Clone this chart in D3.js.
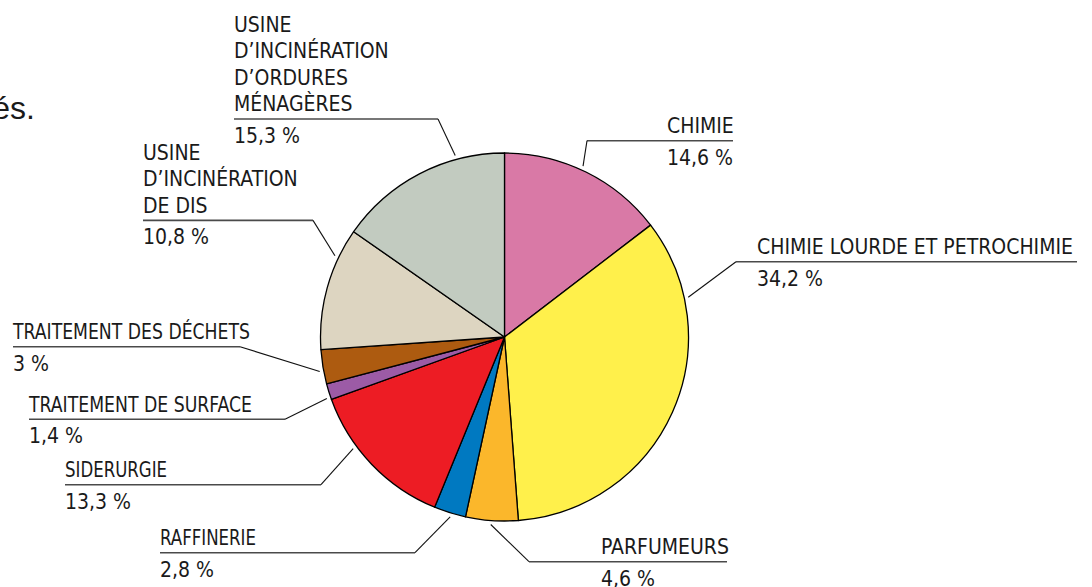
<!DOCTYPE html>
<html>
<head>
<meta charset="utf-8">
<script src="https://cdn.jsdelivr.net/npm/d3@7"></script>
<style>
  body { margin: 0; background: #fff; }
  svg text { font-family: "Liberation Sans Narrow", "Arial Narrow", "DejaVu Sans Condensed", sans-serif; fill: #1a1a1a; }
</style>
</head>
<body>
<div id="d3-container"></div>
<script>
/**
 * CONSTANTS AND GLOBALS
 * */
const width = 1092,
  height = 587;

// slices, clockwise from 12 o'clock
const categories = [
  ["CHIMIE"],
  ["CHIMIE LOURDE ET PETROCHIMIE"],
  ["PARFUMEURS"],
  ["RAFFINERIE"],
  ["SIDERURGIE"],
  ["TRAITEMENT DE SURFACE"],
  ["TRAITEMENT DES DÉCHETS"],
  ["USINE", "D’INCINÉRATION", "DE DIS"],
  ["USINE", "D’INCINÉRATION", "D’ORDURES", "MÉNAGÈRES"]
];
const values = [14.6, 34.2, 4.6, 2.8, 13.3, 1.4, 3, 10.8, 15.3];
const valueLabels = ["14,6 %", "34,2 %", "4,6 %", "2,8 %", "13,3 %", "1,4 %", "3 %", "10,8 %", "15,3 %"];
const colors = ["#d979a6", "#fff04b", "#fbb72b", "#0079c1", "#ed1c24", "#9c5ba6", "#ad5b10", "#ddd5c1", "#c2cbc0"];

// label placement: text x, first baseline, underline x1/x2, which underline end the leader leaves from,
// the angle (deg, clockwise from top) where the leader touches the pie,
// and tw = squeezed width of the name when the fallback font runs too wide
const labelLayout = [
  { x: 667, y: 133, u1: 587, u2: 733, end: "start", angle: 24.7 },
  { x: 757, y: 254, u1: 736, u2: 1077, end: "start", angle: 77.8 },
  { x: 601, y: 554, u1: 529, u2: 727, end: "start", angle: 184.2 },
  { x: 160, y: 545, u1: 160, u2: 415, end: "end", angle: 196.8, tw: 96 },
  { x: 65, y: 477, u1: 65, u2: 321, end: "end", angle: 233.6, tw: 102 },
  { x: 29, y: 411.5, u1: 29, u2: 285, end: "end", angle: 250.9, tw: 223 },
  { x: 13, y: 339, u1: 13, u2: 240, end: "end", angle: 259.4, tw: 237 },
  { x: 143, y: 159.5, u1: 143, u2: 313, end: "end", angle: 295.6 },
  { x: 234, y: 31.5, u1: 234, u2: 438, end: "end", angle: 344.8 }
];

const cx = 504.5, cy = 337, radius = 184;
const lineGap = 26.6;

const svg = d3.select("#d3-container")
  .append("svg")
  .attr("width", width)
  .attr("height", height);

// stray end of a sentence at the left edge
svg.append("text")
  .attr("x", 35)
  .attr("y", 119)
  .attr("text-anchor", "end")
  .style("font-family", "'Liberation Sans', Arial, sans-serif")
  .style("font-size", "32px")
  .text("és.");

const pie = d3.pie().sort(null).value(d => d);
const arcs = pie(values);
const arc = d3.arc().innerRadius(0).outerRadius(radius);

const g = svg.append("g").attr("transform", `translate(${cx},${cy})`);

g.selectAll("path.slice")
  .data(arcs)
  .join("path")
  .attr("class", "slice")
  .attr("d", arc)
  .attr("fill", (d, i) => colors[i])
  .attr("stroke", "#000")
  .attr("stroke-width", 1.3)
  .attr("stroke-linejoin", "round");

// labels
const labels = svg.selectAll("g.label")
  .data(arcs)
  .join("g")
  .attr("class", "label");

labels.each(function(d, i) {
  const L = labelLayout[i];
  const sel = d3.select(this);
  const lines = categories[i];
  lines.forEach((t, k) => {
    const txt = sel.append("text")
      .attr("x", L.x)
      .attr("y", L.y + k * lineGap)
      .style("font-size", "21px")
      .text(t);
    if (L.tw) txt.attr("textLength", L.tw).attr("lengthAdjust", "spacingAndGlyphs");
  });
  const uy = L.y + (lines.length - 1) * lineGap + 7.7;
  sel.append("line")
    .attr("x1", L.u1).attr("x2", L.u2)
    .attr("y1", uy).attr("y2", uy)
    .attr("stroke", "#4a4a4a")
    .attr("stroke-width", 1.6);
  sel.append("text")
    .attr("x", L.x)
    .attr("y", uy + 23.8)
    .style("font-size", "21px")
    .text(valueLabels[i]);

  const a = L.angle * Math.PI / 180;
  const px = cx + Math.sin(a) * (radius + 4);
  const py = cy - Math.cos(a) * (radius + 4);
  sel.append("line")
    .attr("x1", L.end === "start" ? L.u1 : L.u2)
    .attr("y1", uy)
    .attr("x2", px)
    .attr("y2", py)
    .attr("stroke", "#111")
    .attr("stroke-width", 1.1);
});
</script>
</body>
</html>
